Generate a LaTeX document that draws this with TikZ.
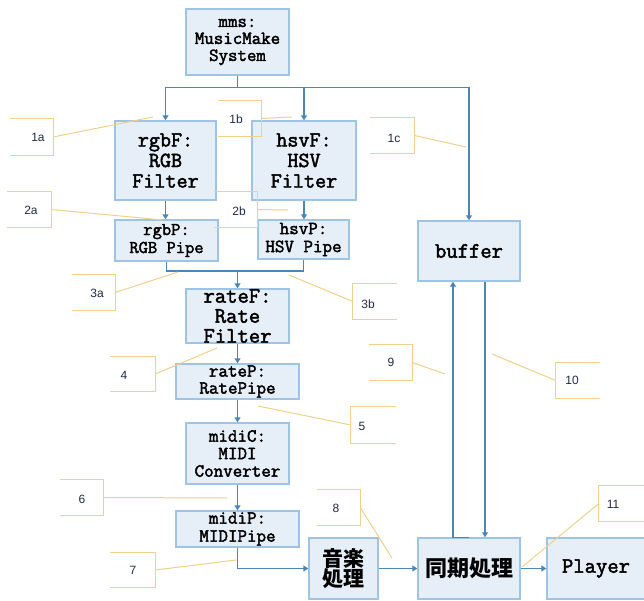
\documentclass[tikz,border=0pt]{standalone}
\usepackage{fontspec}
\usetikzlibrary{arrows.meta}
\newfontfamily\cjk{Noto Sans CJK JP}
\newfontfamily\labfont{Liberation Sans}
\newfontfamily\monob[FakeBold=2.2]{Latin Modern Mono}
\definecolor{boxfill}{HTML}{E6EEF8}
\definecolor{boxline}{HTML}{9DC3E6}
\definecolor{connc}{HTML}{4A86B8}
\definecolor{callc}{HTML}{F0D08A}
\definecolor{labc}{HTML}{1F2A44}
\newcommand\brL[1]{\draw[callline] (#1.north west) -- (#1.north east) -- (#1.south east) -- (#1.south west);}
\newcommand\brR[1]{\draw[callline] (#1.north east) -- (#1.north west) -- (#1.south west) -- (#1.south east);}
\tikzset{
  x=1pt, y=-1pt,
  blk/.style={draw=boxline, fill=boxfill, line width=1.4pt, inner sep=0pt, align=center},
  fsz/.style n args={2}{font=\monob\fontsize{#1}{#2}\selectfont},
  cjsz/.style n args={2}{font=\cjk\bfseries\fontsize{#1}{#2}\selectfont},
  conn/.style={draw=connc, line width=1.5pt},
  arr/.style={conn, -{Triangle[length=5pt,width=6pt]}},
  callline/.style={draw=callc, line width=1pt},
  cbox/.style={inner sep=0pt},
  lab/.style={font=\labfont\fontsize{12}{13}\selectfont, text=labc, inner sep=0pt},
}
\begin{document}
\begin{tikzpicture}
\useasboundingbox (0,0) rectangle (644,601);
% blocks
\node[blk, fsz={18.4}{17}, minimum width=103, minimum height=66] (mms) at (237.5,42) {mms:\\MusicMake\\System};
\node[blk, fsz={21.5}{20.5}, minimum width=101, minimum height=79] (rgbF) at (165.5,160.5) {rgbF:\\RGB\\Filter};
\node[blk, fsz={21.5}{20.5}, minimum width=104, minimum height=79] (hsvF) at (304,160.5) {hsvF:\\HSV\\Filter};
\node[blk, fsz={18}{18}, minimum width=103, minimum height=41] (rgbP) at (166.5,240.5) {rgbP:\\RGB Pipe};
\node[blk, fsz={18.5}{18}, minimum width=91, minimum height=39] (hsvP) at (303.5,239.5) {hsvP:\\HSV Pipe};
\node[blk, fsz={22}{22}, minimum width=102, minimum height=60] (buffer) at (469,251) {buffer};
\node[blk, fsz={22}{20}, minimum width=103, minimum height=54] (rateF) at (237.5,316) {rateF:\\Rate\\Filter};
\node[blk, fsz={18.5}{17}, minimum width=123, minimum height=35] (rateP) at (237.5,381.5) {rateP:\\RatePipe};
\node[blk, fsz={18.5}{17.5}, minimum width=103, minimum height=61] (midiC) at (237.5,453.5) {midiC:\\MIDI\\Converter};
\node[blk, fsz={18.5}{18}, minimum width=123, minimum height=36] (midiP) at (237.5,529) {midiP:\\MIDIPipe};
\node[blk, cjsz={21}{20}, minimum width=69, minimum height=61] (music) at (343.5,568.5) {音楽\\処理};
\node[blk, cjsz={22}{22}, minimum width=102, minimum height=61] (sync) at (469,568.5) {同期処理};
\node[blk, fsz={22}{22}, minimum width=98, minimum height=61] (player) at (596,568.5) {Player};
% connectors
\draw[conn] (mms.south) -- ++(0,12) coordinate (j1);
\draw[arr] (j1) -| (rgbF.north);
\draw[arr] (j1) -| (hsvF.north);
\draw[arr] (j1) -| (buffer.north);
\draw[arr] (rgbF.south) -- (rgbF.south |- rgbP.north);
\draw[arr] (hsvF.south) -- (hsvF.south |- hsvP.north);
\coordinate (j2) at (237.5,271);
\draw[conn] (rgbP.south) |- (j2) -| (hsvP.south);
\draw[arr] (j2) -- (rateF.north);
\draw[arr] (rateF.south) -- (rateP.north);
\draw[arr] (rateP.south) -- (midiC.north);
\draw[arr] (midiC.south) -- (midiP.north);
\draw[arr] (midiP.south) |- (music.west);
\draw[arr] (music.east) -- (sync.west);
\draw[arr] (sync.east) -- (player.west);
\draw[arr] (sync.north) -- ++(-16,0) coordinate (s1) -- (s1 |- buffer.south);
\draw[arr] ([xshift=16pt]buffer.south) -- ([xshift=16pt]buffer.south |- sync.north);
% callouts
\node[cbox, minimum width=43, minimum height=36] (c1a) at (31.5,137) {};
\node[lab] (t1a) at (38,137) {1a};
\coordinate (p1a) at (153,117);
\brL{c1a} \draw[callline] (c1a.east) -- (p1a);
\node[cbox, minimum width=43, minimum height=35] (c1b) at (239.5,118.5) {};
\node[lab] (t1b) at (236,119) {1b};
\coordinate (p1b) at (292,117);
\brL{c1b} \draw[callline] (c1b.east) -- (p1b);
\node[cbox, minimum width=44, minimum height=35] (c1c) at (392,135.5) {};
\node[lab] (t1c) at (394,138) {1c};
\coordinate (p1c) at (466,147);
\brL{c1c} \draw[callline] (c1c.east) -- (p1c);
\node[cbox, minimum width=44, minimum height=35] (c2a) at (29,209.5) {};
\node[lab] (t2a) at (31,210) {2a};
\coordinate (p2a) at (163,220);
\brL{c2a} \draw[callline] (c2a.east) -- (p2a);
\node[cbox, minimum width=43, minimum height=35] (c2b) at (235.5,209.5) {};
\node[lab] (t2b) at (239,211) {2b};
\coordinate (p2b) at (288,210);
\brL{c2b} \draw[callline] (c2b.east) -- (p2b);
\node[cbox, minimum width=43, minimum height=35] (c3a) at (93.5,292.5) {};
\node[lab] (t3a) at (97,293) {3a};
\coordinate (p3a) at (178,272);
\brL{c3a} \draw[callline] (c3a.east) -- (p3a);
\node[cbox, minimum width=44, minimum height=35] (c3b) at (375,301.5) {};
\node[lab] (t3b) at (368,304) {3b};
\coordinate (p3b) at (289,275);
\brR{c3b} \draw[callline] (c3b.west) -- (p3b);
\node[cbox, minimum width=45, minimum height=34] (c4) at (132.5,374) {};
\node[lab] (t4) at (124,375) {4};
\coordinate (p4) at (217,348);
\brL{c4} \draw[callline] (c4.east) -- (p4);
\node[cbox, minimum width=45, minimum height=36] (c5) at (373.5,425) {};
\node[lab] (t5) at (362,426) {5};
\coordinate (p5) at (258,406);
\brR{c5} \draw[callline] (c5.west) -- (p5);
\node[cbox, minimum width=43, minimum height=35] (c6) at (81.5,497.5) {};
\node[lab] (t6) at (82,499) {6};
\coordinate (p6) at (227,498);
\brL{c6} \draw[callline] (c6.east) -- (p6);
\node[cbox, minimum width=45, minimum height=34] (c7) at (132.5,570) {};
\node[lab] (t7) at (133,570) {7};
\coordinate (p7) at (236,560);
\brL{c7} \draw[callline] (c7.east) -- (p7);
\node[cbox, minimum width=43, minimum height=35] (c8) at (338.5,507.5) {};
\node[lab] (t8) at (336,508) {8};
\coordinate (p8) at (392,558);
\brL{c8} \draw[callline] (c8.east) -- (p8);
\node[cbox, minimum width=43, minimum height=35] (c9) at (390.5,362.5) {};
\node[lab] (t9) at (391,362) {9};
\coordinate (p9) at (445,374);
\brL{c9} \draw[callline] (c9.east) -- (p9);
\node[cbox, minimum width=44, minimum height=35] (c10) at (578,380.5) {};
\node[lab] (t10) at (572,380) {10};
\coordinate (p10) at (492,354);
\brR{c10} \draw[callline] (c10.west) -- (p10);
\node[cbox, minimum width=46, minimum height=35] (c11) at (622,503.5) {};
\node[lab] (t11) at (613,504) {11};
\coordinate (p11) at (522,567);
\brR{c11} \draw[callline] (c11.west) -- (p11);
\end{tikzpicture}
\end{document}
